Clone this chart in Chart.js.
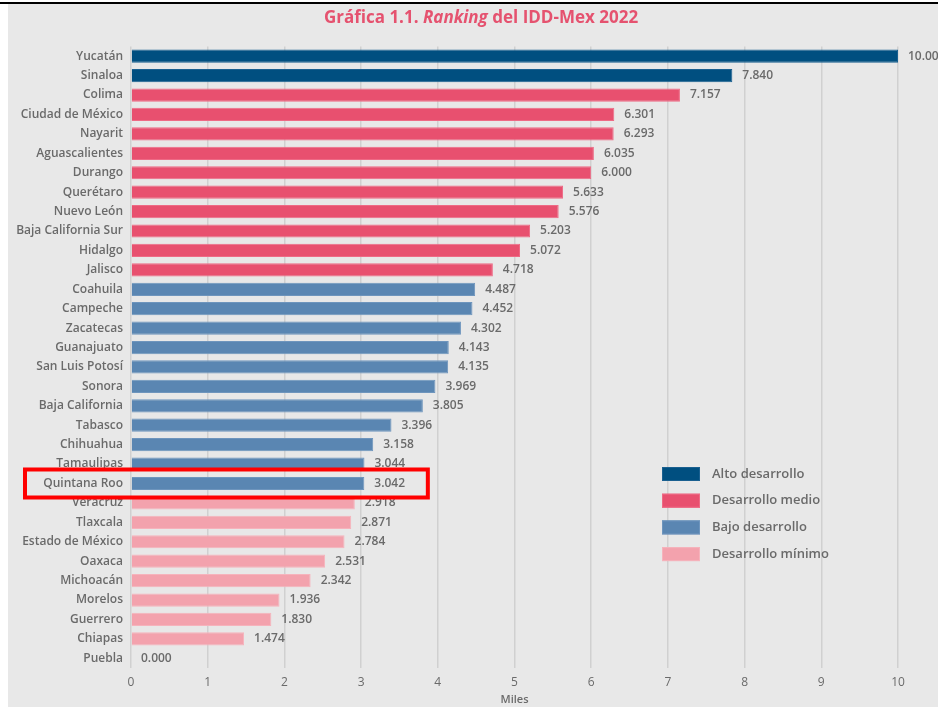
<!DOCTYPE html>
<html>
<head>
<meta charset="utf-8">
<script src="https://cdn.jsdelivr.net/npm/chart.js@4/dist/chart.umd.min.js"></script>
<style>
  body { margin:0; background:#ffffff; }
  #topline { position:absolute; left:0; top:2px; width:938px; height:2px; background:#000; }
  #wrap { position:absolute; left:8px; top:4px; width:930px; height:703px; background:#e8e8e8; }
</style>
</head>
<body>
<div id="topline"></div>
<div id="wrap"><canvas id="c" width="930" height="703"></canvas></div>
<script>
const states = ["Yucatán","Sinaloa","Colima","Ciudad de México","Nayarit","Aguascalientes","Durango","Querétaro","Nuevo León","Baja California Sur","Hidalgo","Jalisco","Coahuila","Campeche","Zacatecas","Guanajuato","San Luis Potosí","Sonora","Baja California","Tabasco","Chihuahua","Tamaulipas","Quintana Roo","Veracruz","Tlaxcala","Estado de México","Oaxaca","Michoacán","Morelos","Guerrero","Chiapas","Puebla"];
const values = [10.000,7.840,7.157,6.301,6.293,6.035,6.000,5.633,5.576,5.203,5.072,4.718,4.487,4.452,4.302,4.143,4.135,3.969,3.805,3.396,3.158,3.044,3.042,2.918,2.871,2.784,2.531,2.342,1.936,1.830,1.474,0.000];
// group index per state: 0 Alto, 1 Medio, 2 Bajo, 3 Mínimo
const groupOf = [0,0,1,1,1,1,1,1,1,1,1,1,2,2,2,2,2,2,2,2,2,2,2,3,3,3,3,3,3,3,3,3];
const groupNames = ["Alto desarrollo","Desarrollo medio","Bajo desarrollo","Desarrollo mínimo"];
const groupColors = ["#004f80","#e8506f","#5a86b2","#f3a2ad"];
const groupBorders = ["#1a6090","#ee6a85","#6e95bd","#f6b3bc"];
const xTicks = [0,1,2,3,4,5,6,7,8,9,10];
const highlightState = "Quintana Roo";
const titleParts = [["Gráfica 1.1. ", "normal"], ["Ranking", "italic"], [" del IDD-Mex 2022", "normal"]];
const axisTitle = "Miles";

const FONT = "'Open Sans', sans-serif";
const TEXT = "#6a6a6a";

const datasets = groupNames.map((name, g) => ({
  label: name,
  data: values.map((v, i) => groupOf[i] === g ? v : null),
  backgroundColor: groupColors[g],
  borderColor: groupBorders[g],
  borderWidth: 1,
  borderSkipped: 'start',
  categoryPercentage: 1,
  barPercentage: 0.68
}));

const titlePlugin = {
  id: 'mixedTitle',
  afterDraw(chart) {
    const ctx = chart.ctx;
    ctx.save();
    ctx.fillStyle = "#e5526f";
    ctx.textBaseline = "middle";
    const size = 17;
    let total = 0;
    const widths = titleParts.map(([t, st]) => {
      ctx.font = `${st} bold ${size}px ${FONT}`;
      const w = ctx.measureText(t).width; total += w; return w;
    });
    let x = 473 - total / 2;
    titleParts.forEach(([t, st], k) => {
      ctx.font = `${st} bold ${size}px ${FONT}`;
      ctx.textAlign = "left";
      ctx.fillText(t, x, 14);
      x += widths[k];
    });
    ctx.restore();
  }
};

const valueLabels = {
  id: 'valueLabels',
  afterDatasetsDraw(chart) {
    const ctx = chart.ctx;
    ctx.save();
    ctx.font = `600 12px ${FONT}`;
    ctx.fillStyle = TEXT;
    ctx.textBaseline = "middle";
    ctx.textAlign = "left";
    chart.data.datasets.forEach((ds, di) => {
      const meta = chart.getDatasetMeta(di);
      meta.data.forEach((el, i) => {
        const v = ds.data[i];
        if (v === null || v === undefined) return;
        ctx.fillText(v.toFixed(3), el.x + 10, el.y);
      });
    });
    ctx.restore();
  }
};

const legendPlugin = {
  id: 'insideLegend',
  afterDraw(chart) {
    const ctx = chart.ctx;
    const a = chart.chartArea;
    ctx.save();
    ctx.font = `600 13px ${FONT}`;
    ctx.textBaseline = "middle";
    ctx.textAlign = "left";
    chart.data.datasets.forEach((ds, k) => {
      const cy = a.top + 427.5 + k * 26.7;
      const bx = a.left + 531;
      ctx.fillStyle = ds.backgroundColor;
      ctx.fillRect(bx, cy - 7, 38, 14);
      ctx.strokeStyle = ds.borderColor;
      ctx.lineWidth = 1;
      ctx.strokeRect(bx + 0.5, cy - 6.5, 37, 13);
      ctx.fillStyle = TEXT;
      ctx.fillText(ds.label, bx + 50, cy);
    });
    ctx.restore();
  }
};

const highlightPlugin = {
  id: 'highlight',
  afterDraw(chart) {
    const idx = states.indexOf(highlightState);
    if (idx < 0) return;
    const ctx = chart.ctx;
    const y = chart.scales.y.getPixelForValue(idx);
    const left = chart.chartArea.left - 106;
    const right = chart.scales.x.getPixelForValue(3.87);
    ctx.save();
    ctx.strokeStyle = "#ff0000";
    ctx.lineWidth = 4;
    ctx.strokeRect(left, y - 14, right - left, 28);
    ctx.restore();
  }
};

new Chart(document.getElementById('c'), {
  type: 'bar',
  data: { labels: states, datasets },
  options: {
    indexAxis: 'y',
    responsive: false,
    animation: false,
    layout: { padding: { top: 42.5, right: 40, left: 0, bottom: 0 } },
    plugins: { legend: { display: false }, title: { display: false }, tooltip: { enabled: false } },
    scales: {
      x: {
        min: 0, max: 10,
        afterBuildTicks(scale) { scale.ticks = xTicks.map(v => ({ value: v })); },
        afterFit(scale) { scale.height = 39; },
        grid: { color: "#d0d0d0", lineWidth: 1.5, drawTicks: false },
        border: { display: false },
        ticks: { padding: 7, color: TEXT, font: { family: FONT, size: 12 }, callback: v => String(v) },
        title: { display: true, text: axisTitle, color: TEXT, font: { family: FONT, size: 11, weight: '600' }, padding: { top: 0, bottom: 1 } }
      },
      y: {
        stacked: true,
        afterFit(scale) { scale.width = 123; },
        grid: { display: false, drawTicks: false },
        border: { display: false },
        ticks: { padding: 8, color: TEXT, font: { family: FONT, size: 12, weight: '600' }, autoSkip: false }
      }
    }
  },
  plugins: [titlePlugin, valueLabels, legendPlugin, highlightPlugin]
});
</script>
</body>
</html>
